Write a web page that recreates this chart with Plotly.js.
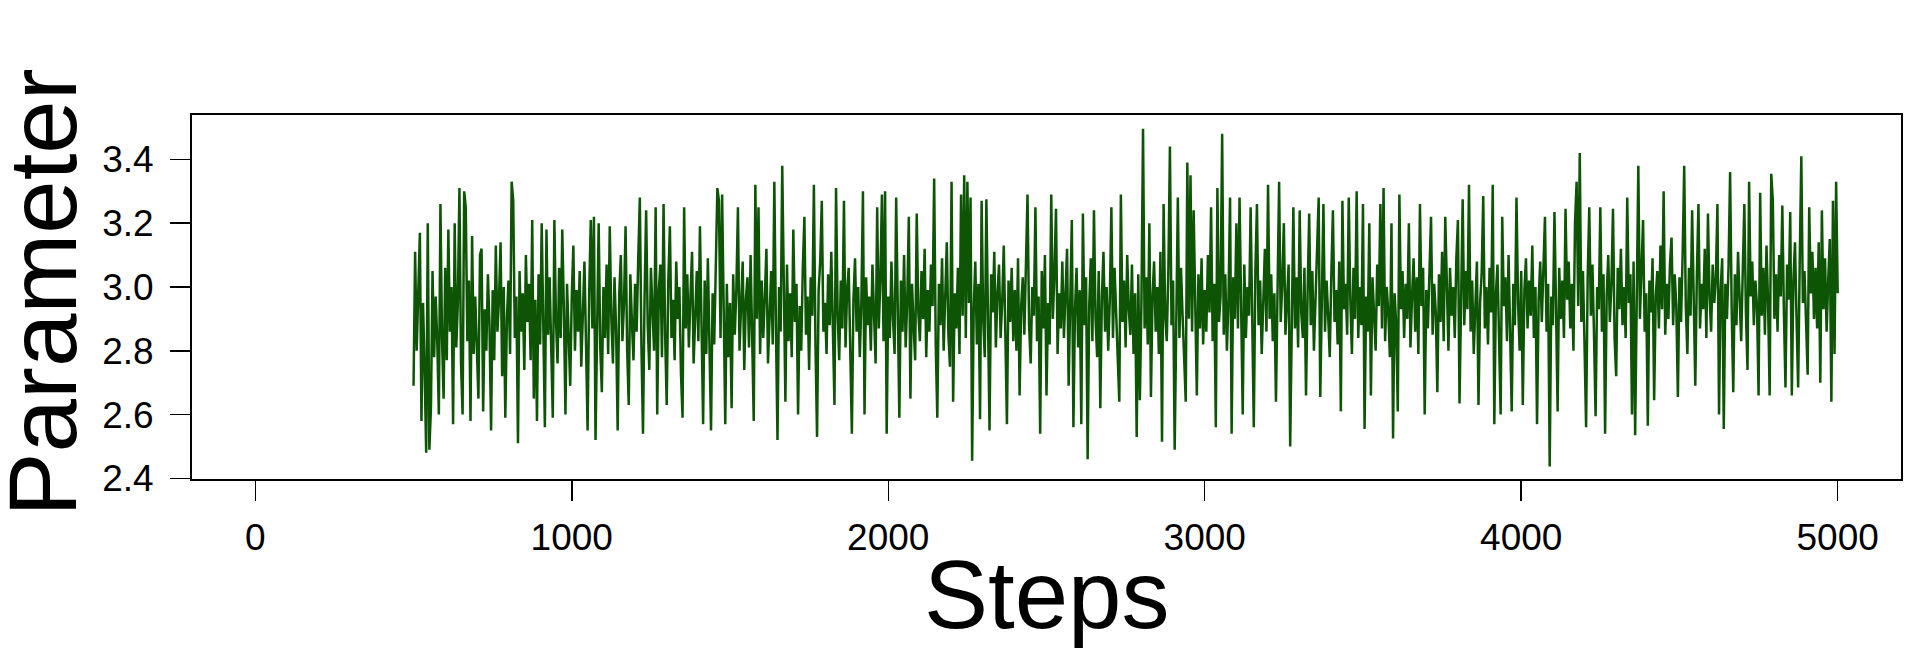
<!DOCTYPE html>
<html>
<head>
<meta charset="utf-8">
<script src="https://cdn.plot.ly/plotly-3.0.1.min.js"></script>
<style>
  html, body { margin: 0; padding: 0; background: #ffffff; }
  #chart { width: 1920px; height: 672px; }
</style>
</head>
<body>
<div id="chart"></div>
<script>
// Trace of the sampled parameter, read every 5 steps from step 500 to 5000
const firstStep = 500;
const stepEvery = 5;
const paramValues = [
  2.69, 3.11, 2.80, 3.02, 3.17, 2.58, 2.95, 2.74, 2.48, 3.20, 2.49, 2.62, 3.05, 2.78, 2.97, 2.83, 2.60, 3.26, 2.84, 2.65,
  3.06, 2.77, 3.18, 2.86, 3.00, 2.57, 3.20, 2.81, 2.95, 3.31, 2.76, 2.60, 3.30, 3.25, 2.83, 3.02, 2.58, 3.16, 2.79, 2.97,
  2.84, 2.65, 3.10, 3.12, 2.61, 2.93, 2.80, 3.04, 2.88, 2.55, 2.99, 2.77, 3.13, 2.86, 2.96, 3.14, 2.72, 3.00, 2.59, 2.90,
  3.02, 2.79, 3.33, 3.27, 2.84, 2.97, 2.51, 3.05, 2.86, 2.98, 2.74, 3.10, 2.89, 3.01, 2.77, 3.21, 2.65, 2.96, 2.58, 3.04,
  2.82, 3.20, 2.88, 2.56, 3.18, 2.85, 3.03, 2.78, 2.59, 3.21, 2.90, 2.76, 3.06, 2.84, 3.18, 2.93, 2.60, 3.01, 2.83, 2.69,
  2.97, 3.13, 2.80, 2.99, 2.86, 3.05, 2.75, 2.94, 3.08, 2.82, 2.55, 2.98, 3.21, 2.87, 3.22, 2.52, 2.93, 3.20, 2.81, 2.67,
  3.00, 2.84, 3.07, 2.79, 3.19, 2.90, 2.76, 3.03, 2.87, 2.55, 2.98, 3.10, 2.83, 2.95, 3.19, 2.80, 2.63, 3.04, 2.89, 2.77,
  3.01, 2.86, 3.09, 3.28, 2.82, 2.54, 2.97, 3.24, 2.88, 2.74, 3.06, 2.93, 2.80, 3.25, 2.60, 2.99, 3.07, 2.78, 3.26, 2.85,
  2.63, 3.02, 3.19, 2.84, 2.96, 2.77, 3.08, 2.90, 3.00, 2.73, 2.59, 3.25, 2.87, 3.04, 2.81, 2.97, 3.11, 2.76, 2.92, 3.05,
  2.83, 3.19, 2.88, 2.57, 3.02, 2.79, 3.09, 2.86, 2.55, 2.98, 2.82, 3.06, 3.31, 3.27, 2.84, 3.29, 2.93, 2.57, 3.01, 2.78,
  2.95, 2.62, 3.04, 2.85, 2.99, 3.25, 2.80, 2.92, 3.08, 2.74, 2.96, 3.03, 2.81, 3.10, 2.87, 2.58, 3.32, 2.90, 3.25, 2.79,
  3.02, 2.84, 2.97, 3.12, 2.76, 2.93, 3.05, 2.82, 3.33, 2.88, 2.52, 3.00, 2.86, 3.38, 2.95, 2.64, 3.07, 2.83, 2.98, 2.78,
  3.18, 2.89, 3.01, 2.60, 2.94, 2.80, 3.06, 3.22, 2.85, 2.97, 2.74, 3.03, 2.91, 3.32, 2.82, 2.53, 2.99, 3.08, 3.27, 2.86,
  2.95, 2.79, 3.04, 2.88, 3.11, 2.83, 2.63, 3.31, 2.92, 2.77, 3.02, 2.87, 3.27, 2.81, 2.99, 3.06, 2.84, 2.54, 2.96, 3.09,
  2.86, 3.00, 2.78, 2.95, 3.30, 2.60, 3.03, 2.88, 2.97, 2.80, 3.07, 2.91, 2.76, 3.25, 2.87, 3.02, 3.29, 2.83, 3.30, 2.54,
  2.97, 2.84, 3.08, 2.90, 2.79, 3.28, 2.93, 2.59, 3.02, 2.86, 3.10, 2.81, 2.96, 3.22, 2.65, 3.01, 2.88, 2.77, 3.23, 2.92,
  2.83, 3.05, 2.90, 3.12, 2.78, 2.99, 2.86, 3.07, 2.94, 3.34, 2.82, 2.59, 3.01, 2.88, 3.09, 2.80, 2.97, 3.14, 2.85, 2.75,
  3.33, 2.64, 2.98, 2.87, 3.06, 2.79, 3.29, 2.91, 3.35, 2.84, 3.33, 2.95, 3.28, 2.455, 2.93, 3.08, 2.82, 3.01, 2.585, 3.27,
  2.90, 2.78, 3.275, 2.86, 2.55, 3.04, 2.92, 3.11, 2.81, 2.98, 3.07, 2.84, 2.95, 3.13, 2.77, 2.57, 3.02, 2.89, 3.06, 2.83,
  2.99, 2.80, 3.09, 2.66, 2.94, 3.03, 2.85, 3.12, 3.29, 2.88, 2.76, 3.00, 2.91, 3.25, 2.83, 2.97, 2.54, 3.05, 2.87, 3.10,
  2.66, 2.95, 2.82, 3.29, 2.90, 3.04, 3.245, 2.79, 2.98, 2.87, 3.08, 2.84, 2.96, 3.12, 2.69, 3.00, 3.21, 2.56, 2.93, 3.06,
  2.81, 2.99, 2.57, 3.23, 2.88, 3.03, 2.46, 2.94, 3.09, 2.83, 3.24, 2.90, 2.78, 3.05, 2.62, 2.97, 3.11, 2.86, 3.00, 2.80,
  2.96, 3.25, 2.84, 3.06, 2.92, 2.77, 2.64, 3.29, 2.89, 3.02, 2.81, 3.10, 2.93, 2.85, 3.07, 2.79, 2.98, 2.53, 3.04, 2.645,
  2.95, 3.496, 2.87, 3.03, 2.82, 3.20, 2.655, 2.97, 3.08, 2.86, 3.00, 2.79, 3.11, 2.515, 3.26, 2.91, 2.83, 3.05, 3.44, 2.88,
  3.02, 2.49, 2.95, 3.28, 2.84, 3.06, 2.91, 2.78, 2.64, 3.39, 2.90, 3.35, 2.86, 3.24, 2.97, 2.66, 3.04, 2.87, 3.09, 2.82,
  2.99, 2.86, 3.10, 2.92, 3.25, 2.83, 3.01, 2.56, 3.31, 2.89, 2.97, 3.48, 2.85, 3.04, 2.80, 2.96, 3.28, 2.54, 3.03, 2.90,
  3.20, 2.87, 3.28, 2.95, 2.60, 3.07, 2.84, 3.00, 2.91, 3.25, 2.82, 2.56, 3.05, 3.26, 2.88, 3.02, 2.79, 2.97, 3.12, 2.86,
  3.32, 2.90, 3.04, 2.83, 2.98, 2.64, 3.09, 3.33, 2.89, 3.01, 3.20, 2.85, 2.96, 3.07, 2.50, 2.93, 3.25, 2.87, 3.03, 2.81,
  3.24, 2.92, 2.84, 3.06, 2.66, 2.98, 3.23, 2.88, 3.05, 2.80, 2.97, 3.10, 3.28, 2.655, 2.95, 3.26, 2.86, 3.02, 2.91, 2.78,
  3.04, 3.24, 2.89, 2.99, 2.82, 3.08, 2.61, 3.27, 2.93, 3.01, 2.85, 3.28, 2.96, 2.79, 3.06, 2.90, 3.30, 2.84, 3.00, 2.88,
  3.26, 2.555, 2.97, 2.86, 3.20, 2.66, 3.03, 2.91, 2.80, 3.07, 2.94, 3.26, 2.87, 3.31, 2.83, 3.00, 2.92, 2.78, 3.20, 2.525,
  2.98, 2.88, 2.61, 3.29, 2.93, 3.05, 2.84, 3.01, 2.90, 3.20, 2.81, 2.97, 3.09, 2.86, 3.03, 2.79, 3.26, 2.94, 3.06, 2.60,
  2.99, 2.87, 3.08, 3.22, 2.85, 3.01, 2.92, 2.67, 3.04, 2.89, 3.11, 2.83, 3.22, 2.96, 2.80, 3.06, 2.91, 3.00, 2.84, 3.09,
  3.21, 2.635, 2.99, 3.275, 2.88, 3.05, 2.93, 3.32, 2.86, 3.02, 2.79, 2.97, 3.08, 2.63, 2.95, 3.04, 3.285, 2.87, 3.00, 2.82,
  3.06, 2.92, 3.32, 2.57, 2.98, 3.07, 2.85, 2.60, 3.22, 2.94, 3.03, 2.83, 3.10, 2.90, 2.61, 3.01, 2.88, 3.28, 2.95, 2.80,
  3.05, 2.63, 2.99, 3.09, 2.87, 3.02, 2.91, 3.13, 2.84, 3.00, 2.57, 2.96, 3.08, 2.89, 3.04, 3.22, 2.86, 3.01, 2.437, 2.97,
  2.88, 3.235, 2.93, 2.61, 3.06, 2.90, 3.02, 2.84, 3.245, 2.96, 3.08, 2.87, 3.01, 2.80, 3.20, 3.33, 2.94, 3.42, 2.89, 3.05,
  2.82, 2.56, 3.03, 3.25, 2.91, 3.07, 2.85, 2.595, 3.00, 2.93, 3.25, 2.86, 3.04, 2.54, 2.97, 3.10, 2.89, 3.01, 3.245, 2.84,
  2.72, 3.06, 2.93, 3.12, 2.88, 3.00, 2.84, 3.28, 2.95, 3.04, 2.60, 3.08, 2.535, 2.99, 3.38, 2.90, 3.03, 3.21, 2.86, 2.98,
  2.565, 3.02, 2.92, 3.09, 2.645, 2.97, 3.05, 2.87, 3.13, 2.93, 3.30, 2.85, 3.01, 2.90, 3.07, 3.155, 2.88, 3.04, 2.94, 2.655,
  3.03, 2.89, 3.10, 3.38, 2.94, 2.79, 3.06, 2.91, 3.24, 2.98, 2.69, 3.04, 3.26, 2.87, 3.01, 2.93, 3.12, 2.84, 3.23, 2.97,
  2.86, 3.07, 2.95, 3.03, 3.26, 2.60, 2.99, 3.09, 2.555, 3.01, 2.90, 3.06, 3.36, 2.93, 2.67, 3.04, 2.88, 3.11, 2.96, 2.83,
  3.05, 3.26, 2.92, 2.74, 3.33, 2.97, 3.08, 2.88, 3.02, 2.94, 2.66, 3.295, 2.91, 3.06, 2.85, 3.13, 2.95, 2.66, 3.355, 3.27,
  2.90, 3.04, 2.86, 3.10, 2.97, 3.255, 2.92, 2.685, 3.07, 2.96, 3.235, 2.66, 3.02, 3.14, 2.90, 2.685, 3.08, 3.41, 2.95, 3.05,
  2.89, 2.725, 3.25, 2.98, 3.11, 2.90, 3.06, 2.87, 3.14, 2.70, 3.24, 2.93, 3.09, 2.86, 3.02, 3.15, 2.64, 3.27, 2.79, 3.33,
  2.98
];
const stepValues = paramValues.map((_, i) => firstStep + i * stepEvery);

const xTickValues = [0, 1000, 2000, 3000, 4000, 5000];
const xTickLabels = ["0", "1000", "2000", "3000", "4000", "5000"];
const yTickValues = [2.4, 2.6, 2.8, 3.0, 3.2, 3.4];
const yTickLabels = ["2.4", "2.6", "2.8", "3.0", "3.2", "3.4"];
const xAxisTitle = "Steps";
const yAxisTitle = "Parameter";

const fontFamily = "'Liberation Sans', Arial, Helvetica, sans-serif";

const trace = {
  x: stepValues,
  y: paramValues,
  type: "scatter",
  mode: "lines",
  line: { color: "#0d5405", width: 2.5 },
  hoverinfo: "skip",
  showlegend: false
};

const layout = {
  width: 1920,
  height: 672,
  paper_bgcolor: "#ffffff",
  plot_bgcolor: "#ffffff",
  margin: { l: 192, r: 19, t: 115, b: 193, pad: 0 },
  showlegend: false,
  font: { family: fontFamily, color: "#000000" },
  xaxis: {
    range: [-200, 5200],
    tickmode: "array",
    tickvals: xTickValues,
    ticktext: xTickLabels,
    ticks: "outside",
    ticklen: 20,
    tickwidth: 1.5,
    tickcolor: "#000000",
    ticklabelstandoff: 5,
    tickfont: { family: fontFamily, size: 37, color: "#000000" },
    showline: true,
    mirror: true,
    linecolor: "#000000",
    linewidth: 2,
    showgrid: false,
    zeroline: false,
    automargin: false
  },
  yaxis: {
    range: [2.398, 3.539],
    tickmode: "array",
    tickvals: yTickValues,
    ticktext: yTickLabels,
    ticks: "outside",
    ticklen: 20,
    tickwidth: 1.5,
    tickcolor: "#000000",
    ticklabelstandoff: 9,
    tickfont: { family: fontFamily, size: 37, color: "#000000" },
    showline: true,
    mirror: true,
    linecolor: "#000000",
    linewidth: 2,
    showgrid: false,
    zeroline: false,
    automargin: false
  },
  annotations: [
    {
      text: xAxisTitle,
      xref: "paper", yref: "paper",
      x: 0.5, y: -0.318,
      xanchor: "center", yanchor: "middle",
      showarrow: false,
      font: { family: fontFamily, size: 96, color: "#000000" }
    },
    {
      text: yAxisTitle,
      textangle: -90,
      xref: "paper", yref: "paper",
      x: -0.0875, y: 0.5137,
      xanchor: "center", yanchor: "middle",
      showarrow: false,
      font: { family: fontFamily, size: 96, color: "#000000" }
    }
  ]
};

Plotly.newPlot("chart", [trace], layout, { staticPlot: true, displayModeBar: false });
</script>
</body>
</html>
